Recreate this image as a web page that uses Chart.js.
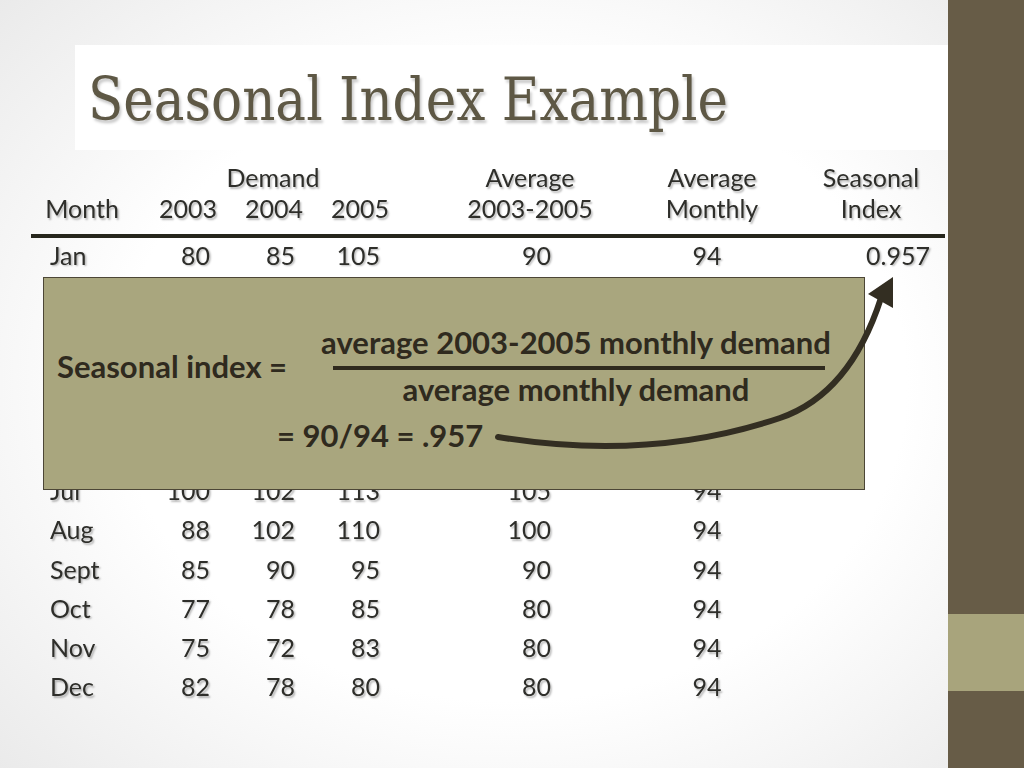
<!DOCTYPE html>
<html>
<head>
<meta charset="utf-8">
<script src="https://cdn.jsdelivr.net/npm/chart.js@4.4.1/dist/chart.umd.min.js"></script>
<style>
  html, body { margin: 0; padding: 0; }
  body {
    width: 1024px; height: 768px; overflow: hidden; position: relative;
    background: radial-gradient(ellipse 70% 75% at 50% 50%, #ffffff 55%, #e9e9e9 100%);
    font-family: Lato, "Open Sans", sans-serif;
  }
  .titlebox { position: absolute; left: 75px; top: 45px; width: 873px; height: 105px; background: #fff; }
  .title {
    position: absolute; left: 88px; top: 70px; white-space: nowrap; transform-origin: 0 0;
    font-family: "DejaVu Serif", "Liberation Serif", serif; font-size: 59px; line-height: 1;
    color: #5e5845; text-shadow: 2px 3px 3px rgba(0,0,0,0.22);
  }
  .band { position: absolute; left: 948px; top: 0; width: 76px; height: 768px; background: #675c47; }
  .band2 { position: absolute; left: 948px; top: 614px; width: 76px; height: 77px; background: #a8a47c; }
  #wrap { position: absolute; left: 0; top: 0; width: 1024px; height: 768px; }
  .box {
    position: absolute; left: 43px; top: 277px; width: 820px; height: 211px;
    background: #a9a67e; border: 1.5px solid #4c4636;
  }
  .bt { position: absolute; font-weight: 700; font-size: 31px; color: #2f2a1e; white-space: nowrap;
        line-height: 1; transform: translateY(-50%); }
  .frac { position: absolute; left: 333px; top: 366px; width: 492px; height: 4px; background: #2f2a1e; }
  svg { position: absolute; left: 0; top: 0; }
</style>
</head>
<body>
<div class="titlebox"></div>
<div class="title" id="title">Seasonal Index Example</div>
<div class="band"></div>
<div class="band2"></div>
<div id="wrap"><canvas id="tbl" width="1024" height="768"></canvas></div>

<div class="box"></div>
<div class="bt" style="left:57px; top:366px;">Seasonal index =</div>
<div class="bt" style="left:576px; top:342px; transform:translate(-50%,-50%);">average 2003-2005 monthly demand</div>
<div class="frac"></div>
<div class="bt" style="left:576px; top:389px; transform:translate(-50%,-50%);">average monthly demand</div>
<div class="bt" style="left:277px; top:435px;">= 90/94 = .957</div>
<svg width="1024" height="768">
  <path d="M498,437 Q650,462 780,418 Q850,394 881,298" fill="none" stroke="#332e22" stroke-width="6" stroke-linecap="round"/>
  <polygon points="893,277 868,294 893,308" fill="#332e22"/>
</svg>

<script>
/* ---------- datos ---------- */
const months = ["Jan", "Feb", "Mar", "Apr", "May", "June", "Jul", "Aug", "Sept", "Oct", "Nov", "Dec"];
const demand2003 = [80, 70, 80, 90, 113, 110, 100, 88, 85, 77, 75, 82];
const demand2004 = [85, 85, 93, 95, 125, 115, 102, 102, 90, 78, 72, 78];
const demand2005 = [105, 85, 82, 115, 131, 120, 113, 110, 95, 85, 83, 80];
const avg2003to2005 = [90, 80, 85, 100, 123, 115, 105, 100, 90, 80, 80, 80];
const avgMonthly = [94, 94, 94, 94, 94, 94, 94, 94, 94, 94, 94, 94];
const seasonalIndex = ["0.957", null, null, null, null, null, null, null, null, null, null, null];
const headerTop = ["", "", "Demand", "", "Average", "Average", "Seasonal"];
const headerBottom = ["Month", "2003", "2004", "2005", "2003-2005", "Monthly", "Index"];

/* ---------- layout de columnas (anclas y alineación) ---------- */
const cols = [
  { x: 50,  align: "left",   hx: 82 },
  { x: 210, align: "right",  hx: 188 },
  { x: 295, align: "right",  hx: 274 },
  { x: 380, align: "right",  hx: 360 },
  { x: 551, align: "right",  hx: 530 },
  { x: 707, align: "center", hx: 712 },
  { x: 930, align: "right",  hx: 871 },
];
const columns = [months, demand2003, demand2004, demand2005, avg2003to2005, avgMonthly, seasonalIndex];
const INK = "#2e2e2a";
const FONT = "25px Lato, 'Open Sans', sans-serif";

const datasets = columns.map((vals, c) => ({
  label: headerBottom[c],
  data: months.map((m, i) => ({ x: cols[c].x, y: m, v: vals[i] })),
  pointRadius: 0, showLine: false,
}));

const tablePlugin = {
  id: "tabla",
  afterDatasetsDraw(ch) {
    const g = ch.ctx;
    const top = ch.chartArea.top;
    g.save();
    g.font = FONT;
    g.textBaseline = "middle";
    g.shadowColor = "rgba(0,0,0,0.28)";
    g.shadowOffsetX = 1.5; g.shadowOffsetY = 1.5; g.shadowBlur = 2;
    g.fillStyle = INK;
    // celdas
    ch.data.datasets.forEach((ds, c) => {
      const meta = ch.getDatasetMeta(c);
      g.textAlign = cols[c].align;
      meta.data.forEach((pt, i) => {
        const v = ds.data[i].v;
        if (v === null || v === undefined) return;
        g.fillText(String(v), pt.x, pt.y + 1);
      });
    });
    // encabezados
    g.textAlign = "center";
    headerBottom.forEach((t, c) => g.fillText(t, cols[c].hx, top - 26));
    headerTop.forEach((t, c) => { if (t) g.fillText(t, c === 2 ? 273 : cols[c].hx, top - 57); });
    // regla
    g.shadowColor = "transparent";
    g.fillStyle = "#26261c";
    g.fillRect(31, top - 2, 914, 4);
    g.restore();
  },
};

new Chart(document.getElementById("tbl"), {
  type: "scatter",
  data: { datasets },
  options: {
    responsive: false, animation: false,
    layout: { padding: { top: 236, bottom: 61, left: 0, right: 0 } },
    plugins: { legend: { display: false }, tooltip: { enabled: false } },
    scales: {
      x: { type: "linear", min: 0, max: 1024, display: false },
      y: { type: "category", labels: months, offset: true, display: false },
    },
  },
  plugins: [tablePlugin],
});

// ajustar ancho del título
const t = document.getElementById("title");
t.style.transform = "scaleX(" + (640 / t.offsetWidth) + ")";
</script>
</body>
</html>
